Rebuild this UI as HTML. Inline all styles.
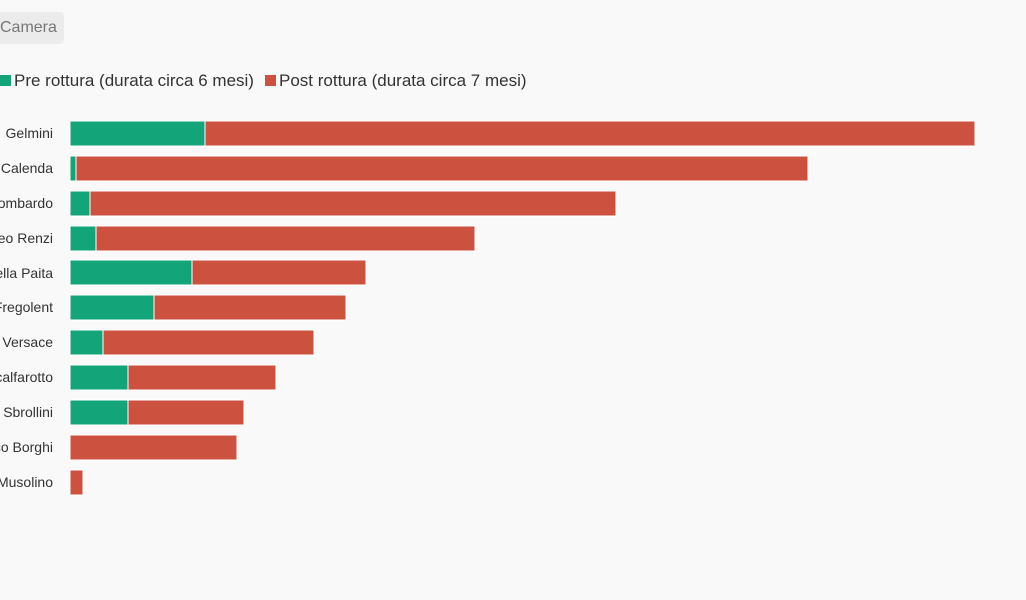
<!DOCTYPE html>
<html><head><style>
body{margin:0;width:1026px;height:600px;background:#f9f9f9;font-family:"Liberation Sans Narrow","Liberation Sans",sans-serif;overflow:hidden;position:relative}
.btn{position:absolute;left:-8px;top:12px;width:72px;height:32px;background:#ebebeb;border-radius:5px}
.btn span{position:absolute;left:8px;top:7px;font-size:16px;color:#777}
.lg{position:absolute;top:71px;font-size:17px;color:#333;white-space:nowrap}
.sw{display:inline-block;width:11px;height:11px;margin-right:3px;vertical-align:0px}
</style></head><body>
<div class="btn"><span>Camera</span></div>
<div class="lg" style="left:0"><span class="sw" style="background:#13a579"></span>Pre rottura (durata circa 6 mesi)</div>
<div class="lg" style="left:265px"><span class="sw" style="background:#cc513f"></span>Post rottura (durata circa 7 mesi)</div>
<svg width="1026" height="600" style="position:absolute;left:0;top:0" font-family="Liberation Sans Narrow, Liberation Sans, sans-serif" font-size="14" fill="#333">
<g stroke="#fff" stroke-width="1">
<rect x="70" y="121" width="135" height="25" fill="#13a579"/><rect x="205" y="121" width="770" height="25" fill="#cc513f"/>
<rect x="70" y="156" width="6" height="25" fill="#13a579"/><rect x="76" y="156" width="732" height="25" fill="#cc513f"/>
<rect x="70" y="191" width="20" height="25" fill="#13a579"/><rect x="90" y="191" width="526" height="25" fill="#cc513f"/>
<rect x="70" y="226" width="26" height="25" fill="#13a579"/><rect x="96" y="226" width="379" height="25" fill="#cc513f"/>
<rect x="70" y="260" width="122" height="25" fill="#13a579"/><rect x="192" y="260" width="174" height="25" fill="#cc513f"/>
<rect x="70" y="295" width="84" height="25" fill="#13a579"/><rect x="154" y="295" width="192" height="25" fill="#cc513f"/>
<rect x="70" y="330" width="33" height="25" fill="#13a579"/><rect x="103" y="330" width="211" height="25" fill="#cc513f"/>
<rect x="70" y="365" width="58" height="25" fill="#13a579"/><rect x="128" y="365" width="148" height="25" fill="#cc513f"/>
<rect x="70" y="400" width="58" height="25" fill="#13a579"/><rect x="128" y="400" width="116" height="25" fill="#cc513f"/>
<rect x="70" y="435" width="167" height="25" fill="#cc513f"/>
<rect x="70" y="470" width="13" height="25" fill="#cc513f"/>
</g>
<g text-anchor="end">
<text x="53" y="138">Gelmini</text>
<text x="53" y="173">Calenda</text>
<text x="53" y="208">Lombardo</text>
<text x="53" y="243">Matteo Renzi</text>
<text x="53" y="278">Raffaella Paita</text>
<text x="53" y="312">Fregolent</text>
<text x="53" y="347">Versace</text>
<text x="53" y="382">Scalfarotto</text>
<text x="53" y="417">Sbrollini</text>
<text x="53" y="452">Enrico Borghi</text>
<text x="53" y="487">Musolino</text>
</g>
</svg>
</body></html>
